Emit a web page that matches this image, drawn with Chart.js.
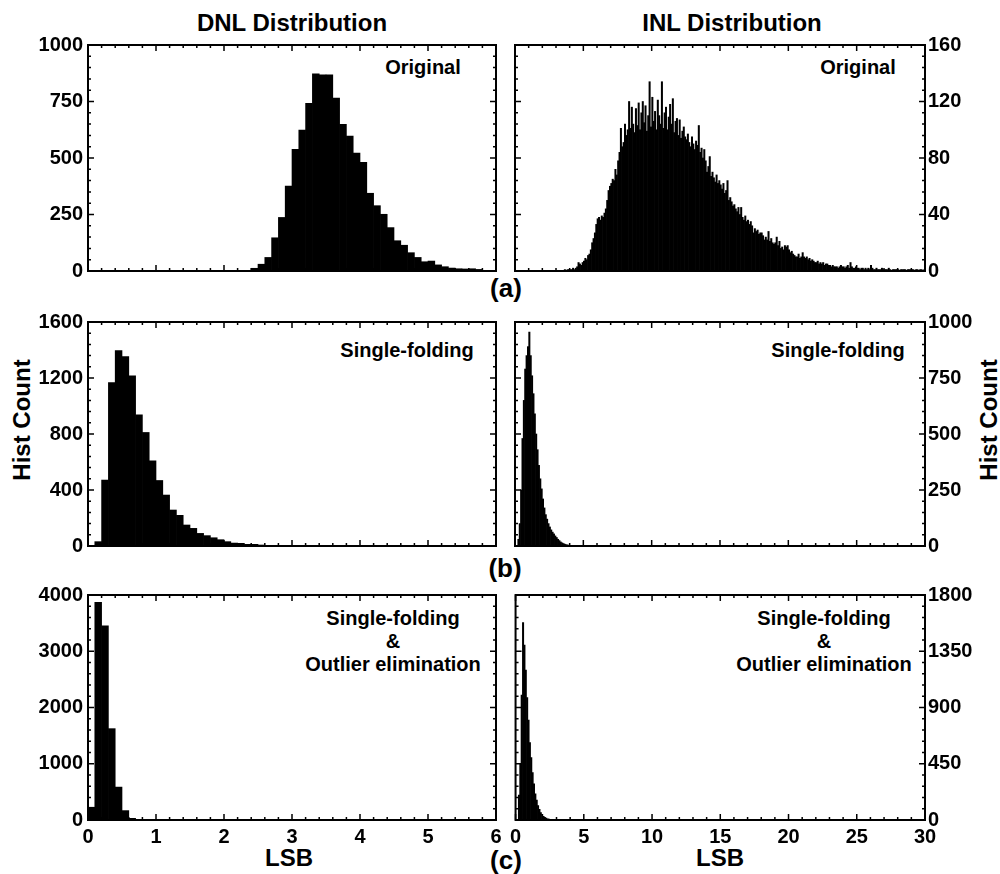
<!DOCTYPE html>
<html lang="en">
<head>
  <meta charset="UTF-8" />
  <title>DNL / INL Distribution</title>
  <script src="https://cdn.jsdelivr.net/npm/chart.js"></script>
  <style>
    body {
      margin: 0;
      background: #fff;
      font-family: 'Liberation Sans', Arial, sans-serif;
    }
    #page {
      position: relative;
      width: 1000px;
      height: 874px;
      overflow: hidden;
    }
    canvas { position: absolute; }
    .lbl {
      position: absolute;
      transform: translate(-50%, -50%);
      font-weight: bold;
      color: #000;
      white-space: nowrap;
      line-height: 1;
    }
    .title { font-size: 24px; }
    .note { font-size: 20px; text-align: center; line-height: 23px; }
    .rot { transform: translate(-50%, -50%) rotate(-90deg); }
  </style>
</head>
<body>
<div id="page">
  <div class="lbl title" style="left:292px; top:23px;">DNL Distribution</div>
  <div class="lbl title" style="left:732px; top:23px;">INL Distribution</div>

  <div class="lbl note" style="left:423px; top:67px;">Original</div>
  <div class="lbl note" style="left:858px; top:67px;">Original</div>
  <div class="lbl note" style="left:407px; top:350px;">Single-folding</div>
  <div class="lbl note" style="left:838px; top:350px;">Single-folding</div>
  <div class="lbl note" style="left:393px; top:641px;">Single-folding<br>&amp;<br>Outlier elimination</div>
  <div class="lbl note" style="left:824px; top:641px;">Single-folding<br>&amp;<br>Outlier elimination</div>

  <div class="lbl title" style="left:506px; top:288px; font-size:26px;">(a)</div>
  <div class="lbl title" style="left:505px; top:568px; font-size:26px;">(b)</div>
  <div class="lbl title" style="left:506px; top:860px; font-size:26px;">(c)</div>

  <div class="lbl title rot" style="left:22px; top:420px;">Hist Count</div>
  <div class="lbl title rot" style="left:989px; top:420px;">Hist Count</div>

  <div class="lbl title" style="left:289px; top:858px;">LSB</div>
  <div class="lbl title" style="left:720px; top:858px;">LSB</div>

  <canvas id="dnlA" width="510" height="276" style="left:0; top:25px;"></canvas>
  <canvas id="dnlB" width="510" height="274" style="left:0; top:302px;"></canvas>
  <canvas id="dnlC" width="510" height="285" style="left:0; top:575px;"></canvas>
  <canvas id="inlA" width="495" height="276" style="left:505px; top:25px;"></canvas>
  <canvas id="inlB" width="495" height="274" style="left:505px; top:302px;"></canvas>
  <canvas id="inlC" width="495" height="285" style="left:505px; top:575px;"></canvas>
</div>

<script>
  // histogram bin width in LSB
  const DNL_BIN = 0.1;
  const INL_BIN = 0.1;

  // DNL histograms (first bin lower edge + counts)
  const dnlOrigStart = 2.4;
  const dnlOrig = [12, 30, 60, 147, 237, 376, 538, 624, 742, 872, 868, 868, 765, 649, 597, 522,
    481, 344, 289, 251, 192, 134, 114, 81, 60, 41, 44, 27, 19, 13, 10, 9, 10, 7, 3, 3];

  const dnlFoldStart = 0.1;
  const dnlFold = [31, 471, 1167, 1396, 1353, 1215, 937, 811, 609, 468, 364, 257, 219, 150, 126,
    90, 74, 59, 45, 31, 21, 19, 12, 12, 7, 3, 3, 2, 1];

  const dnlElimStart = 0.0;
  const dnlElim = [227, 3868, 3450, 1624, 585, 167, 30, 12, 5];

  // INL histograms
  const inlOrigStart = 3.5;
  const inlOrig = [
    0, 1, 0, 1, 1,
    1, 1, 2, 1, 2, 3, 6, 5, 4, 6,
    7, 9, 8, 11, 12, 15, 20, 23, 27, 33,
    37, 38, 36, 39, 38, 41, 44, 50, 57, 60,
    62, 65, 64, 72, 68, 78, 84, 101, 88, 91,
    104, 96, 100, 120, 101, 116, 104, 98, 115, 103,
    119, 100, 112, 120, 105, 117, 99, 110, 134, 102,
    123, 106, 113, 100, 121, 110, 104, 134, 101, 112,
    116, 100, 109, 118, 104, 122, 98, 106, 108, 96,
    107, 94, 99, 102, 95, 93, 97, 91, 88, 95,
    90, 86, 92, 89, 103, 84, 87, 80, 86, 78,
    70, 74, 81, 67, 70, 66, 63, 68, 62, 64,
    61, 58, 62, 55, 57, 64, 50, 52, 49, 46,
    47, 44, 42, 45, 40, 45, 38, 36, 39, 35,
    36, 33, 35, 32, 27, 30, 28, 29, 26, 27,
    27, 25, 22, 24, 22, 28, 21, 23, 20, 19,
    20, 24, 18, 21, 16, 17, 15, 18, 17, 18,
    15, 13, 14, 12, 11, 10, 10, 12, 9, 10,
    13, 10, 9, 10, 8, 9, 7, 8, 7, 6,
    6, 7, 5, 6, 5, 6, 4, 5, 5, 4,
    4, 3, 4, 3, 3, 3, 2, 3, 4, 3,
    3, 2, 3, 4, 2, 6, 3, 2, 2, 3,
    2, 2, 1, 2, 2, 1, 2, 1, 2, 1,
    4, 2, 1, 1, 2, 1, 1, 1, 2, 1,
    1, 1, 1, 2, 1, 0, 1, 1, 1, 1,
    1, 0, 1, 1, 1, 1, 0, 1, 1, 1,
    1, 1, 0, 1, 1, 0, 1, 1, 0, 1
  ];

  const inlFoldStart = 0.2;
  const inlFold = [30, 100, 250, 480, 650, 790, 850, 890, 955, 850, 760, 680, 590, 500, 430, 360,
    300, 255, 210, 170, 140, 120, 100, 85, 72, 62, 54, 45, 38, 30, 24, 18, 14, 11, 8, 6, 5, 3, 2, 2, 1];

  const inlElimStart = 0.2;
  const inlElim = [200, 450, 1000, 1580, 1400, 1200, 980, 800, 620, 500, 380, 290, 210, 160, 115,
    85, 60, 45, 30, 22, 15, 10, 7, 5, 3, 2, 1];

  // axis ranges and tick steps
  const dnlXMax = 6, dnlXStep = 1;
  const inlXMax = 30, inlXStep = 5;
  const dnlYMax = [1000, 1600, 4000];
  const dnlYStep = [250, 400, 1000];
  const inlYMax = [160, 1000, 1800];
  const inlYStep = [40, 250, 450];

  const tickFont = { family: "'Liberation Sans', Arial, sans-serif", size: 20, weight: 'bold' };

  function toPoints(start, counts, bin) {
    return counts.map((c, i) => ({ x: +(start + (i + 0.5) * bin).toFixed(3), y: c }));
  }

  // box frame with inward major/minor ticks on all four sides
  const framePlugin = {
    id: 'frame',
    afterDatasetsDraw(chart, args, opts) {
      const { ctx, chartArea: a, scales: { x, y } } = chart;
      ctx.save();
      ctx.strokeStyle = '#000';
      ctx.lineWidth = 1.5;
      ctx.beginPath();
      const nx = Math.round(x.max / opts.xStep) * 5;
      for (let i = 0; i <= nx; i++) {
        const px = x.getPixelForValue(i * opts.xStep / 5);
        const len = i % 5 === 0 ? 6 : 3;
        ctx.moveTo(px, a.bottom); ctx.lineTo(px, a.bottom - len);
        ctx.moveTo(px, a.top); ctx.lineTo(px, a.top + len);
      }
      const ny = Math.round(y.max / opts.yStep) * 5;
      for (let i = 0; i <= ny; i++) {
        const py = y.getPixelForValue(i * opts.yStep / 5);
        const len = i % 5 === 0 ? 6 : 3;
        ctx.moveTo(a.left, py); ctx.lineTo(a.left + len, py);
        ctx.moveTo(a.right, py); ctx.lineTo(a.right - len, py);
      }
      ctx.stroke();
      ctx.lineWidth = 2;
      ctx.strokeRect(a.left, a.top, a.right - a.left, a.bottom - a.top);
      ctx.restore();
    }
  };

  function makePanel(id, points, xMax, xStep, yMax, yStep, side, showX) {
    const left = side === 'left';
    return new Chart(document.getElementById(id), {
      type: 'bar',
      data: {
        datasets: [{
          data: points,
          backgroundColor: '#000',
          borderWidth: 0,
          barPercentage: 1,
          categoryPercentage: 1
        }]
      },
      options: {
        responsive: false,
        animation: false,
        devicePixelRatio: 1,
        layout: { padding: { top: 20, left: left ? 0 : 10, right: left ? 14 : 0, bottom: 0 } },
        plugins: {
          legend: { display: false },
          tooltip: { enabled: false },
          frame: { xStep, yStep }
        },
        scales: {
          x: {
            type: 'linear',
            min: 0,
            max: xMax,
            offset: false,
            grid: { display: false, drawTicks: false, offset: false },
            border: { display: false },
            ticks: {
              display: showX, stepSize: xStep, color: '#000', font: tickFont,
              padding: 5, maxRotation: 0, autoSkip: false,
              callback: v => String(v)
            },
            afterFit: s => { s.height = showX ? 40 : 30; }
          },
          y: {
            type: 'linear',
            position: side,
            min: 0,
            max: yMax,
            grid: { display: false, drawTicks: false },
            border: { display: false },
            ticks: {
              stepSize: yStep, color: '#000', font: tickFont, padding: left ? 5 : 3,
              callback: v => String(v)
            },
            afterFit: s => { s.width = left ? 88 : 75; }
          }
        }
      },
      plugins: [framePlugin]
    });
  }

  makePanel('dnlA', toPoints(dnlOrigStart, dnlOrig, DNL_BIN), dnlXMax, dnlXStep, dnlYMax[0], dnlYStep[0], 'left', false);
  makePanel('dnlB', toPoints(dnlFoldStart, dnlFold, DNL_BIN), dnlXMax, dnlXStep, dnlYMax[1], dnlYStep[1], 'left', false);
  makePanel('dnlC', toPoints(dnlElimStart, dnlElim, DNL_BIN), dnlXMax, dnlXStep, dnlYMax[2], dnlYStep[2], 'left', true);
  makePanel('inlA', toPoints(inlOrigStart, inlOrig, INL_BIN), inlXMax, inlXStep, inlYMax[0], inlYStep[0], 'right', false);
  makePanel('inlB', toPoints(inlFoldStart, inlFold, INL_BIN), inlXMax, inlXStep, inlYMax[1], inlYStep[1], 'right', false);
  makePanel('inlC', toPoints(inlElimStart, inlElim, INL_BIN), inlXMax, inlXStep, inlYMax[2], inlYStep[2], 'right', true);
</script>
</body>
</html>
